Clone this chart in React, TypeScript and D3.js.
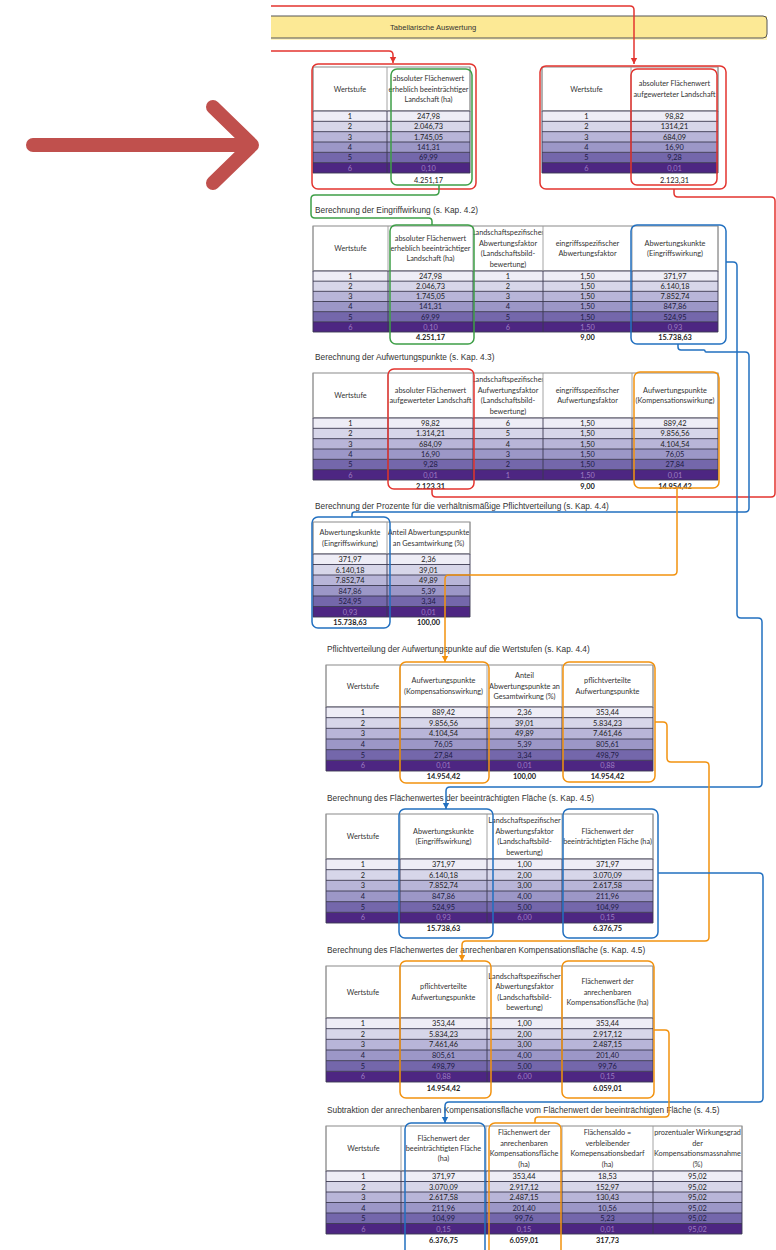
import * as d3 from "d3";
import { useEffect, useRef } from "react";

// Wertstufen und Spaltenwerte
const stufen = [1, 2, 3, 4, 5, 6];
const flaecheErheblich = [247.98, 2046.73, 1745.05, 141.31, 69.99, 0.1];
const flaecheAufgewertet = [98.82, 1314.21, 684.09, 16.9, 9.28, 0.01];
const abwertungsfaktor = [1, 2, 3, 4, 5, 6];
const aufwertungsfaktor = [6, 5, 4, 3, 2, 1];
const eingriffsfaktor = [1.5, 1.5, 1.5, 1.5, 1.5, 1.5];
const abwertungspunkte = [371.97, 6140.18, 7852.74, 847.86, 524.95, 0.93];
const aufwertungspunkte = [889.42, 9856.56, 4104.54, 76.05, 27.84, 0.01];
const anteil = [2.36, 39.01, 49.89, 5.39, 3.34, 0.01];
const pflichtverteilt = [353.44, 5834.23, 7461.46, 805.61, 498.79, 0.88];
const flaecheBeeintraechtigt = [371.97, 3070.09, 2617.58, 211.96, 104.99, 0.15];
const flaecheKompensation = [353.44, 2917.12, 2487.15, 201.4, 99.76, 0.15];
const flaechensaldo = [18.53, 152.97, 130.43, 10.56, 5.23, 0.01];
const wirkungsgrad = [95.02, 95.02, 95.02, 95.02, 95.02, 95.02];

// Summenzeilen
const sumErheblich = 4251.17;
const sumAufgewertet = 2123.31;
const sumEingriffsfaktor = 9.0;
const sumAbwertungspunkte = 15738.63;
const sumAufwertungspunkte = 14954.42;
const sumAnteil = 100.0;
const sumPflicht = 14954.42;
const sumBeeintraechtigt = 6376.75;
const sumKompensation = 6059.01;
const sumSaldo = 317.73;

const sectionTitles = [
  "Berechnung der Eingriffwirkung (s. Kap. 4.2)",
  "Berechnung der Aufwertungspunkte (s. Kap. 4.3)",
  "Berechnung der Prozente für die verhältnismäßige Pflichtverteilung (s. Kap. 4.4)",
  "Pflichtverteilung der Aufwertungspunkte auf die Wertstufen (s. Kap. 4.4)",
  "Berechnung des Flächenwertes der beeinträchtigten Fläche (s. Kap. 4.5)",
  "Berechnung des Flächenwertes der anrechenbaren Kompensationsfläche (s. Kap. 4.5)",
  "Subtraktion der anrechenbaren Kompensationsfläche vom Flächenwert der beeinträchtigten Fläche (s. 4.5)",
];

const de = d3.formatLocale({
  decimal: ",",
  thousands: ".",
  grouping: [3],
  currency: ["", " €"],
});
const f2 = de.format(",.2f");
const f2plain = de.format(".2f");
const fInt = de.format("d");

const rowFill = ["#eeedf6", "#d7d6e9", "#b8b5d8", "#9c97c7", "#7467ab", "#4d2682"];
const rowText = ["#222", "#222", "#222", "#22203c", "#1e1b44", "#9c7cc0"];

const RED = "#e3342f";
const GREEN = "#3e9f47";
const BLUE = "#2270c0";
const ORANGE = "#f2920f";

type Col = {
  head: string[];
  values: number[];
  fmt: (v: number) => string;
  total?: number;
  totalFmt?: (v: number) => string;
};

type Table = {
  title?: string;
  titleX?: number;
  titleY?: number;
  x: number[];
  headTop: number;
  headBot: number;
  rowsBot: number;
  totalY: number;
  bold: boolean;
  cols: Col[];
};

const wert: Col = { head: ["Wertstufe"], values: stufen, fmt: fInt };

const tables: Table[] = [
  {
    x: [313, 387, 470],
    headTop: 67,
    headBot: 111,
    rowsBot: 173,
    totalY: 180,
    bold: false,
    cols: [
      wert,
      {
        head: ["absoluter Flächenwert", "erheblich beeinträchtiger", "Landschaft (ha)"],
        values: flaecheErheblich,
        fmt: f2,
        total: sumErheblich,
      },
    ],
  },
  {
    x: [542, 631, 718],
    headTop: 67,
    headBot: 111,
    rowsBot: 173,
    totalY: 180,
    bold: false,
    cols: [
      wert,
      {
        head: ["absoluter Flächenwert", "aufgewerteter Landschaft"],
        values: flaecheAufgewertet,
        fmt: f2plain,
        total: sumAufgewertet,
        totalFmt: f2,
      },
    ],
  },
  {
    title: sectionTitles[0],
    titleX: 315,
    titleY: 213,
    x: [313, 388, 473, 543, 632, 718],
    headTop: 226,
    headBot: 271,
    rowsBot: 332,
    totalY: 337,
    bold: true,
    cols: [
      wert,
      {
        head: ["absoluter Flächenwert", "erheblich beeinträchtiger", "Landschaft (ha)"],
        values: flaecheErheblich,
        fmt: f2,
        total: sumErheblich,
      },
      {
        head: ["Landschaftspezifischer", "Abwertungsfaktor", "(Landschaftsbild-", "bewertung)"],
        values: abwertungsfaktor,
        fmt: fInt,
      },
      {
        head: ["eingriffsspezifischer", "Abwertungsfaktor"],
        values: eingriffsfaktor,
        fmt: f2,
        total: sumEingriffsfaktor,
      },
      {
        head: ["Abwertungskunkte", "(Eingriffswirkung)"],
        values: abwertungspunkte,
        fmt: f2,
        total: sumAbwertungspunkte,
      },
    ],
  },
  {
    title: sectionTitles[1],
    titleX: 315,
    titleY: 360,
    x: [313, 388, 473, 543, 632, 718],
    headTop: 373,
    headBot: 418,
    rowsBot: 480,
    totalY: 486,
    bold: true,
    cols: [
      wert,
      {
        head: ["absoluter Flächenwert", "aufgewerteter Landschaft"],
        values: flaecheAufgewertet,
        fmt: f2,
        total: sumAufgewertet,
      },
      {
        head: ["Landschaftspezifischer", "Aufwertungsfaktor", "(Landschaftsbild-", "bewertung)"],
        values: aufwertungsfaktor,
        fmt: fInt,
      },
      {
        head: ["eingriffsspezifischer", "Aufwertungsfaktor"],
        values: eingriffsfaktor,
        fmt: f2,
        total: sumEingriffsfaktor,
      },
      {
        head: ["Aufwertungspunkte", "(Kompensationswirkung)"],
        values: aufwertungspunkte,
        fmt: f2,
        total: sumAufwertungspunkte,
      },
    ],
  },
  {
    title: sectionTitles[2],
    titleX: 315,
    titleY: 509,
    x: [313, 387, 470],
    headTop: 522,
    headBot: 554,
    rowsBot: 617,
    totalY: 622,
    bold: true,
    cols: [
      {
        head: ["Abwertungskunkte", "(Eingriffswirkung)"],
        values: abwertungspunkte,
        fmt: f2,
        total: sumAbwertungspunkte,
      },
      {
        head: ["Anteil Abwertungspunkte", "an Gesamtwirkung (%)"],
        values: anteil,
        fmt: f2,
        total: sumAnteil,
      },
    ],
  },
  {
    title: sectionTitles[3],
    titleX: 327,
    titleY: 652,
    x: [326, 400, 487, 562, 653],
    headTop: 665,
    headBot: 707,
    rowsBot: 771,
    totalY: 776,
    bold: true,
    cols: [
      wert,
      {
        head: ["Aufwertungspunkte", "(Kompensationswirkung)"],
        values: aufwertungspunkte,
        fmt: f2,
        total: sumAufwertungspunkte,
      },
      {
        head: ["Anteil", "Abwertungspunkte an", "Gesamtwirkung (%)"],
        values: anteil,
        fmt: f2,
        total: sumAnteil,
      },
      {
        head: ["pflichtverteilte", "Aufwertungspunkte"],
        values: pflichtverteilt,
        fmt: f2,
        total: sumPflicht,
      },
    ],
  },
  {
    title: sectionTitles[4],
    titleX: 327,
    titleY: 801,
    x: [326, 400, 487, 562, 653],
    headTop: 814,
    headBot: 859,
    rowsBot: 923,
    totalY: 928,
    bold: true,
    cols: [
      wert,
      {
        head: ["Abwertungskunkte", "(Eingriffswirkung)"],
        values: abwertungspunkte,
        fmt: f2,
        total: sumAbwertungspunkte,
      },
      {
        head: ["Landschaftspezifischer", "Abwertungsfaktor", "(Landschaftsbild-", "bewertung)"],
        values: abwertungsfaktor,
        fmt: f2,
      },
      {
        head: ["Flächenwert der", "beeinträchtigten Fläche (ha)"],
        values: flaecheBeeintraechtigt,
        fmt: f2,
        total: sumBeeintraechtigt,
      },
    ],
  },
  {
    title: sectionTitles[5],
    titleX: 327,
    titleY: 953,
    x: [326, 400, 487, 562, 653],
    headTop: 966,
    headBot: 1018,
    rowsBot: 1082,
    totalY: 1088,
    bold: true,
    cols: [
      wert,
      {
        head: ["pflichtverteilte", "Aufwertungspunkte"],
        values: pflichtverteilt,
        fmt: f2,
        total: sumPflicht,
      },
      {
        head: ["Landschaftspezifischer", "Abwertungsfaktor", "(Landschaftsbild-", "bewertung)"],
        values: abwertungsfaktor,
        fmt: f2,
      },
      {
        head: ["Flächenwert der", "anrechenbaren", "Kompensationsfläche (ha)"],
        values: flaecheKompensation,
        fmt: f2,
        total: sumKompensation,
      },
    ],
  },
  {
    title: sectionTitles[6],
    titleX: 327,
    titleY: 1113,
    x: [326, 401, 486, 562, 653, 742],
    headTop: 1126,
    headBot: 1171,
    rowsBot: 1234,
    totalY: 1240,
    bold: true,
    cols: [
      wert,
      {
        head: ["Flächenwert der", "beeinträchtigten Fläche", "(ha)"],
        values: flaecheBeeintraechtigt,
        fmt: f2,
        total: sumBeeintraechtigt,
      },
      {
        head: ["Flächenwert der", "anrechenbaren", "Kompensationsfläche", "(ha)"],
        values: flaecheKompensation,
        fmt: f2,
        total: sumKompensation,
      },
      {
        head: ["Flächensaldo =", "verbleibender", "Komepensationsbedarf", "(ha)"],
        values: flaechensaldo,
        fmt: f2,
        total: sumSaldo,
      },
      {
        head: ["prozentualer Wirkungsgrad", "der", "Kompensationsmassnahme", "(%)"],
        values: wirkungsgrad,
        fmt: f2,
      },
    ],
  },
];

// Markierungsrahmen um Spalten
const boxes = [
  { x0: 312, y0: 64, x1: 476, y1: 189, color: RED },
  { x0: 391, y0: 69, x1: 472, y1: 185, color: GREEN },
  { x0: 540, y0: 66, x1: 726, y1: 189, color: RED },
  { x0: 631, y0: 69, x1: 717, y1: 185, color: RED },
  { x0: 390, y0: 225, x1: 474, y1: 344, color: GREEN },
  { x0: 631, y0: 225, x1: 726, y1: 344, color: BLUE },
  { x0: 388, y0: 369, x1: 474, y1: 489, color: RED },
  { x0: 634, y0: 372, x1: 719, y1: 488, color: ORANGE },
  { x0: 312, y0: 517, x1: 390, y1: 628, color: BLUE },
  { x0: 400, y0: 662, x1: 489, y1: 783, color: ORANGE },
  { x0: 563, y0: 662, x1: 655, y1: 782, color: ORANGE },
  { x0: 399, y0: 809, x1: 493, y1: 938, color: BLUE },
  { x0: 563, y0: 809, x1: 658, y1: 938, color: BLUE },
  { x0: 400, y0: 961, x1: 491, y1: 1098, color: ORANGE },
  { x0: 562, y0: 961, x1: 654, y1: 1098, color: ORANGE },
  { x0: 405, y0: 1123, x1: 485, y1: 1262, color: BLUE },
  { x0: 489, y0: 1123, x1: 561, y1: 1262, color: ORANGE },
];

// Verbindungslinien zwischen den Tabellen
const links: { color: string; arrow: boolean; pts: [number, number][] }[] = [
  { color: RED, arrow: true, pts: [[271, 6], [634, 6], [634, 64]] },
  { color: RED, arrow: true, pts: [[271, 51], [393, 51], [393, 63]] },
  {
    color: RED,
    arrow: false,
    pts: [[674, 189], [674, 197], [775, 197], [775, 497], [432, 497], [432, 489]],
  },
  {
    color: GREEN,
    arrow: false,
    pts: [[439, 185], [439, 195], [311, 195], [311, 218], [432, 218], [432, 225]],
  },
  {
    color: BLUE,
    arrow: true,
    pts: [[726, 262], [737, 262], [737, 618], [762, 618], [762, 787], [446, 787], [446, 809]],
  },
  {
    color: BLUE,
    arrow: false,
    pts: [[678, 344], [678, 350], [705, 350], [705, 352], [749, 352], [749, 512], [352, 512], [352, 517]],
  },
  {
    color: ORANGE,
    arrow: true,
    pts: [[677, 488], [677, 575], [445, 575], [445, 662]],
  },
  {
    color: ORANGE,
    arrow: true,
    pts: [[655, 722], [667, 722], [667, 762], [709, 762], [709, 941], [462, 941], [462, 961]],
  },
  {
    color: BLUE,
    arrow: true,
    pts: [[658, 873], [763, 873], [763, 1102], [445, 1102], [445, 1123]],
  },
  {
    color: ORANGE,
    arrow: false,
    pts: [[654, 1030], [669, 1030], [669, 1117], [535, 1117], [535, 1123]],
  },
];

const roundedPath = (pts: [number, number][], r = 4) => {
  let d = `M${pts[0][0]},${pts[0][1]}`;
  for (let i = 1; i < pts.length - 1; i++) {
    const [px, py] = pts[i - 1];
    const [cx, cy] = pts[i];
    const [nx, ny] = pts[i + 1];
    const l1 = Math.hypot(cx - px, cy - py);
    const l2 = Math.hypot(nx - cx, ny - cy);
    const rr = Math.min(r, l1 / 2, l2 / 2);
    const ax = cx - ((cx - px) / l1) * rr;
    const ay = cy - ((cy - py) / l1) * rr;
    const bx = cx + ((nx - cx) / l2) * rr;
    const by = cy + ((ny - cy) / l2) * rr;
    d += `L${ax},${ay}Q${cx},${cy} ${bx},${by}`;
  }
  const last = pts[pts.length - 1];
  return d + `L${last[0]},${last[1]}`;
};

const App = () => {
  const svgRef = useRef<SVGSVGElement>(null);

  useEffect(() => {
    const svg = d3.select(svgRef.current);
    svg.selectAll("*").remove();

    svg.append("rect").attr("width", 776).attr("height", 1250).attr("fill", "#fff");
    const defs = svg.append("defs");

    // === Großer Pfeil links ===
    svg
      .append("path")
      .attr("d", "M33,145 L251,145 M213,107 L252,145 L213,183")
      .attr("fill", "none")
      .attr("stroke", "#c0504d")
      .attr("stroke-width", 14)
      .attr("stroke-linecap", "round")
      .attr("stroke-linejoin", "round");

    // === Banner ===
    svg.append("rect").attr("x", 271).attr("y", 16).attr("width", 496).attr("height", 22).attr("fill", "#fce995");
    svg.append("rect").attr("x", 271).attr("y", 38).attr("width", 496).attr("height", 2).attr("fill", "#fdf2c2");
    svg
      .append("path")
      .attr("d", "M271,16 H763 Q767,16 767,20 V34 Q767,38 763,38 H271")
      .attr("fill", "none")
      .attr("stroke", "#555")
      .attr("stroke-width", 1);
    svg
      .append("text")
      .attr("x", 390)
      .attr("y", 30)
      .attr("font-family", "Liberation Sans, Arial, sans-serif")
      .attr("font-size", 7.6)
      .attr("fill", "#333")
      .text("Tabellarische Auswertung");

    // === Tabellen ===
    tables.forEach((t, ti) => {
      const g = svg.append("g");
      const left = t.x[0];
      const right = t.x[t.x.length - 1];
      const y = d3.scaleBand<number>().domain(stufen).range([t.headBot, t.rowsBot]);

      if (t.title) {
        g.append("text")
          .attr("x", t.titleX!)
          .attr("y", t.titleY!)
          .attr("font-family", "Liberation Sans, Arial, sans-serif")
          .attr("font-size", 8.3)
          .attr("fill", "#333")
          .text(t.title);
      }

      g.append("rect")
        .attr("x", left)
        .attr("y", t.headTop)
        .attr("width", right - left)
        .attr("height", t.headBot - t.headTop)
        .attr("fill", "#fff")
        .attr("stroke", "#8a8a8a")
        .attr("stroke-width", 1);

      stufen.forEach((s, ri) => {
        g.append("rect")
          .attr("x", left)
          .attr("y", y(s)!)
          .attr("width", right - left)
          .attr("height", y.bandwidth())
          .attr("fill", rowFill[ri]);
      });

      [...stufen.map((s) => y(s)!), t.rowsBot].forEach((yy) => {
        g.append("line")
          .attr("x1", left)
          .attr("x2", right)
          .attr("y1", yy)
          .attr("y2", yy)
          .attr("stroke", "#3b3950")
          .attr("stroke-width", 0.9);
      });

      t.x.forEach((xv) => {
        g.append("line")
          .attr("x1", xv)
          .attr("x2", xv)
          .attr("y1", t.headTop)
          .attr("y2", t.headBot)
          .attr("stroke", "#9a9a9a")
          .attr("stroke-width", 0.9);
        g.append("line")
          .attr("x1", xv)
          .attr("x2", xv)
          .attr("y1", t.headBot)
          .attr("y2", t.rowsBot)
          .attr("stroke", "#3b3950")
          .attr("stroke-width", 0.9);
      });

      t.cols.forEach((c, ci) => {
        const x0 = t.x[ci];
        const x1 = t.x[ci + 1];
        const cx = (x0 + x1) / 2;
        const clipId = `clip-${ti}-${ci}`;
        defs
          .append("clipPath")
          .attr("id", clipId)
          .append("rect")
          .attr("x", x0 + 0.5)
          .attr("y", t.headTop)
          .attr("width", x1 - x0 - 1)
          .attr("height", t.headBot - t.headTop);

        const mid = (t.headTop + t.headBot) / 2;
        const lh = 10.4;
        const hg = g.append("g").attr("clip-path", `url(#${clipId})`);
        c.head.forEach((line, li) => {
          hg.append("text")
            .attr("x", cx)
            .attr("y", mid + (li - (c.head.length - 1) / 2) * lh)
            .attr("text-anchor", "middle")
            .attr("dominant-baseline", "central")
            .attr("font-family", "Lato, sans-serif")
            .attr("font-size", 7.3)
            .attr("fill", "#333")
            .text(line);
        });

        stufen.forEach((s, ri) => {
          g.append("text")
            .attr("x", cx)
            .attr("y", y(s)! + y.bandwidth() / 2 + 0.3)
            .attr("text-anchor", "middle")
            .attr("dominant-baseline", "central")
            .attr("font-family", "Lato, sans-serif")
            .attr("font-size", 7.4)
            .attr("fill", rowText[ri])
            .text(c.fmt(c.values[ri]));
        });

        if (c.total !== undefined) {
          g.append("text")
            .attr("x", cx)
            .attr("y", t.totalY)
            .attr("text-anchor", "middle")
            .attr("dominant-baseline", "central")
            .attr("font-family", "Lato, sans-serif")
            .attr("font-size", 7.4)
            .attr("font-weight", t.bold ? "bold" : "normal")
            .attr("fill", "#222")
            .text((c.totalFmt ?? c.fmt)(c.total));
        }
      });
    });

    // === Markierungsrahmen ===
    boxes.forEach((b) => {
      svg
        .append("rect")
        .attr("x", b.x0)
        .attr("y", b.y0)
        .attr("width", b.x1 - b.x0)
        .attr("height", b.y1 - b.y0)
        .attr("rx", 6)
        .attr("fill", "none")
        .attr("stroke", b.color)
        .attr("stroke-width", 1.5);
    });

    // === Verbindungslinien ===
    links.forEach((l) => {
      svg
        .append("path")
        .attr("d", roundedPath(l.pts, 4))
        .attr("fill", "none")
        .attr("stroke", l.color)
        .attr("stroke-width", 1.5);
      if (l.arrow) {
        const [px, py] = l.pts[l.pts.length - 2];
        const [tx, ty] = l.pts[l.pts.length - 1];
        const len = Math.hypot(tx - px, ty - py);
        const ux = (tx - px) / len;
        const uy = (ty - py) / len;
        const size = 6;
        const half = 3.2;
        const bx = tx - ux * size;
        const by = ty - uy * size;
        svg
          .append("path")
          .attr(
            "d",
            `M${tx},${ty} L${bx - uy * half},${by + ux * half} L${bx + uy * half},${by - ux * half} Z`
          )
          .attr("fill", l.color);
      }
    });
  }, []);

  return (
    <svg
      ref={svgRef}
      width={776}
      height={1250}
      style={{ position: "absolute", left: 0, top: 0 }}
    />
  );
};

export default App;
